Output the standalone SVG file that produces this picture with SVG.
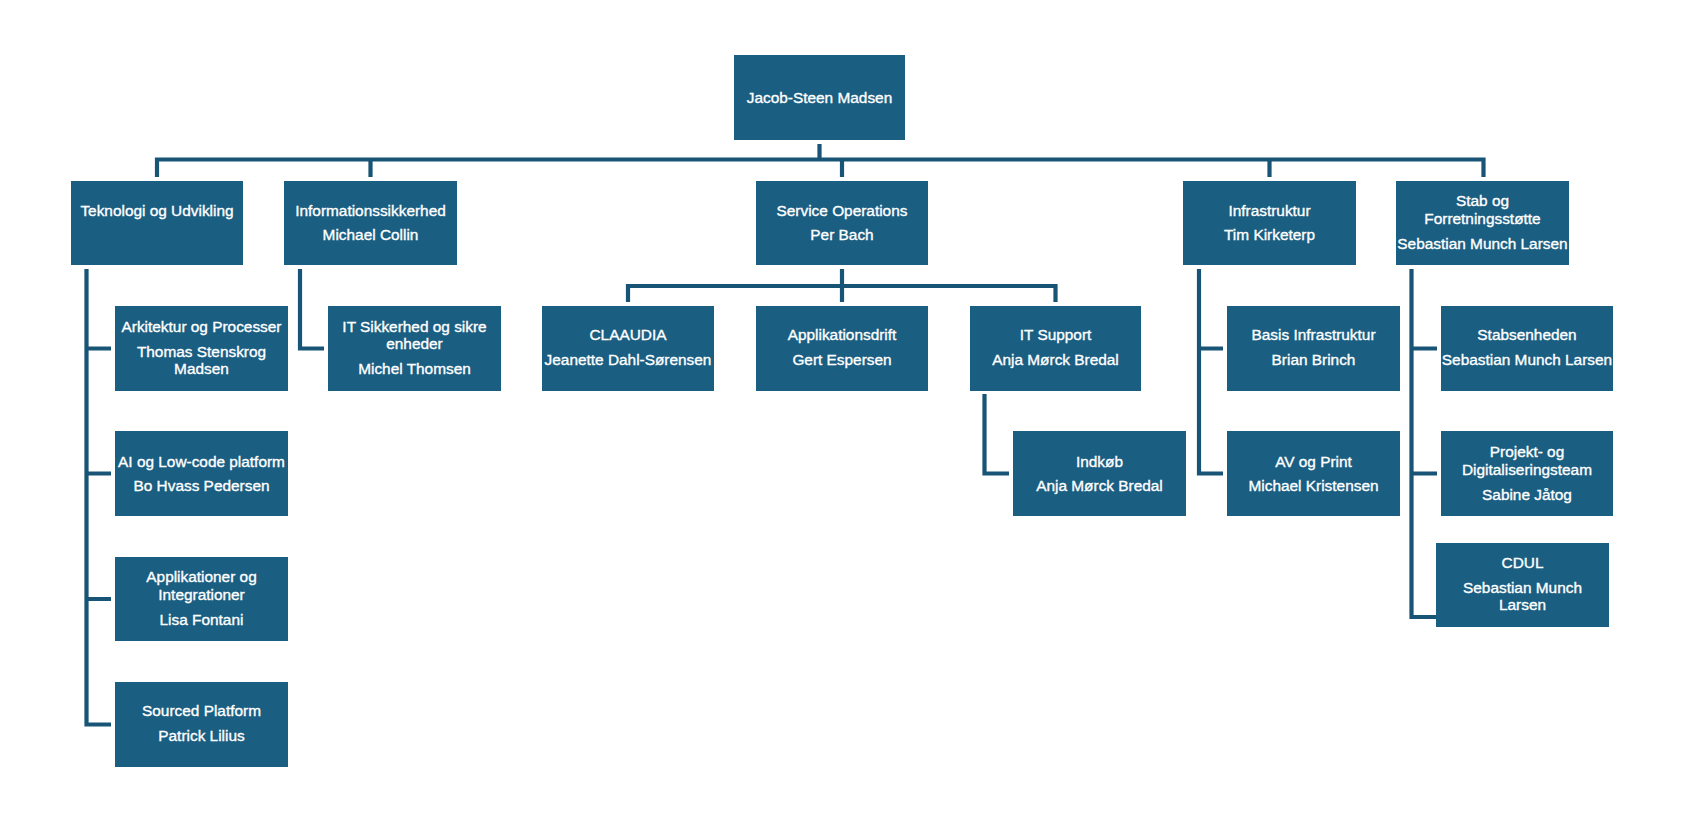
<svg xmlns="http://www.w3.org/2000/svg" width="1690" height="829" viewBox="0 0 1690 829">
<style>
.bg{fill:#ffffff}
.box{fill:#1a5e82}
.t{font-family:"Liberation Sans",Arial,sans-serif;font-size:15.4px;fill:#ffffff;stroke:#ffffff;stroke-width:0.35px;text-anchor:middle}
.c{stroke:#175475;stroke-width:4.2;fill:none;stroke-linecap:butt;stroke-linejoin:miter}
</style>
<rect class="bg" x="0" y="0" width="1690" height="829"/>
<g id="connectors">
<path class="c" d="M819.5,144 V159.5"/>
<path class="c" d="M157,177 V159.5 H1483.5 V177"/>
<path class="c" d="M370.5,159.5 V177"/>
<path class="c" d="M842,159.5 V177"/>
<path class="c" d="M1269.5,159.5 V177"/>
<path class="c" d="M86.5,269 V724.5 H111"/>
<path class="c" d="M86.5,348.5 H111 M86.5,473.5 H111 M86.5,599 H111"/>
<path class="c" d="M300,269 V348.5 H324"/>
<path class="c" d="M842,269 V302 M628,302 V286 H1055.5 V302"/>
<path class="c" d="M984.5,394 V473.5 H1009"/>
<path class="c" d="M1199,269 V473.5 H1223 M1199,348.5 H1223"/>
<path class="c" d="M1411.5,269 V617 H1436 M1411.5,348.5 H1437 M1411.5,473.5 H1437"/>
</g>
<g id="n-jacob"><rect class="box" x="734" y="55" width="171" height="85"/><text class="t"><tspan x="819.5" y="103">Jacob-Steen Madsen</tspan></text></g>
<g id="n-teknologi"><rect class="box" x="71" y="181" width="172" height="84"/><text class="t"><tspan x="157" y="216">Teknologi og Udvikling</tspan></text></g>
<g id="n-info"><rect class="box" x="284" y="181" width="173" height="84"/><text class="t"><tspan x="370.5" y="216">Informationssikkerhed</tspan><tspan x="370.5" y="240">Michael Collin</tspan></text></g>
<g id="n-service"><rect class="box" x="756" y="181" width="172" height="84"/><text class="t"><tspan x="842" y="216">Service Operations</tspan><tspan x="842" y="240">Per Bach</tspan></text></g>
<g id="n-infra"><rect class="box" x="1183" y="181" width="173" height="84"/><text class="t"><tspan x="1269.5" y="216">Infrastruktur</tspan><tspan x="1269.5" y="240">Tim Kirketerp</tspan></text></g>
<g id="n-stab"><rect class="box" x="1396" y="181" width="173" height="84"/><text class="t"><tspan x="1482.5" y="206">Stab og</tspan><tspan x="1482.5" y="223.5">Forretningsstøtte</tspan><tspan x="1482.5" y="249">Sebastian Munch Larsen</tspan></text></g>
<g id="n-arkitektur"><rect class="box" x="115" y="306" width="173" height="85"/><text class="t"><tspan x="201.5" y="332">Arkitektur og Processer</tspan><tspan x="201.5" y="356.5">Thomas Stenskrog</tspan><tspan x="201.5" y="374">Madsen</tspan></text></g>
<g id="n-ai"><rect class="box" x="115" y="431" width="173" height="85"/><text class="t"><tspan x="201.5" y="466.5">AI og Low-code platform</tspan><tspan x="201.5" y="490.5">Bo Hvass Pedersen</tspan></text></g>
<g id="n-applikationer"><rect class="box" x="115" y="557" width="173" height="84"/><text class="t"><tspan x="201.5" y="582">Applikationer og</tspan><tspan x="201.5" y="599.5">Integrationer</tspan><tspan x="201.5" y="624.5">Lisa Fontani</tspan></text></g>
<g id="n-sourced"><rect class="box" x="115" y="682" width="173" height="85"/><text class="t"><tspan x="201.5" y="716">Sourced Platform</tspan><tspan x="201.5" y="741">Patrick Lilius</tspan></text></g>
<g id="n-itsikkerhed"><rect class="box" x="328" y="306" width="173" height="85"/><text class="t"><tspan x="414.5" y="332">IT Sikkerhed og sikre</tspan><tspan x="414.5" y="349">enheder</tspan><tspan x="414.5" y="374">Michel Thomsen</tspan></text></g>
<g id="n-claaudia"><rect class="box" x="542" y="306" width="172" height="85"/><text class="t"><tspan x="628" y="340">CLAAUDIA</tspan><tspan x="628" y="365">Jeanette Dahl-Sørensen</tspan></text></g>
<g id="n-applikationsdrift"><rect class="box" x="756" y="306" width="172" height="85"/><text class="t"><tspan x="842" y="340">Applikationsdrift</tspan><tspan x="842" y="365">Gert Espersen</tspan></text></g>
<g id="n-itsupport"><rect class="box" x="970" y="306" width="171" height="85"/><text class="t"><tspan x="1055.5" y="340">IT Support</tspan><tspan x="1055.5" y="365">Anja Mørck Bredal</tspan></text></g>
<g id="n-indkob"><rect class="box" x="1013" y="431" width="173" height="85"/><text class="t"><tspan x="1099.5" y="466.5">Indkøb</tspan><tspan x="1099.5" y="490.5">Anja Mørck Bredal</tspan></text></g>
<g id="n-basis"><rect class="box" x="1227" y="306" width="173" height="85"/><text class="t"><tspan x="1313.5" y="340">Basis Infrastruktur</tspan><tspan x="1313.5" y="365">Brian Brinch</tspan></text></g>
<g id="n-av"><rect class="box" x="1227" y="431" width="173" height="85"/><text class="t"><tspan x="1313.5" y="466.5">AV og Print</tspan><tspan x="1313.5" y="490.5">Michael Kristensen</tspan></text></g>
<g id="n-stabsenheden"><rect class="box" x="1441" y="306" width="172" height="85"/><text class="t"><tspan x="1527" y="340">Stabsenheden</tspan><tspan x="1527" y="365">Sebastian Munch Larsen</tspan></text></g>
<g id="n-projekt"><rect class="box" x="1441" y="431" width="172" height="85"/><text class="t"><tspan x="1527" y="457">Projekt- og</tspan><tspan x="1527" y="474.5">Digitaliseringsteam</tspan><tspan x="1527" y="499.5">Sabine Jåtog</tspan></text></g>
<g id="n-cdul"><rect class="box" x="1436" y="543" width="173" height="84"/><text class="t"><tspan x="1522.5" y="568">CDUL</tspan><tspan x="1522.5" y="593">Sebastian Munch</tspan><tspan x="1522.5" y="610">Larsen</tspan></text></g>
</svg>
